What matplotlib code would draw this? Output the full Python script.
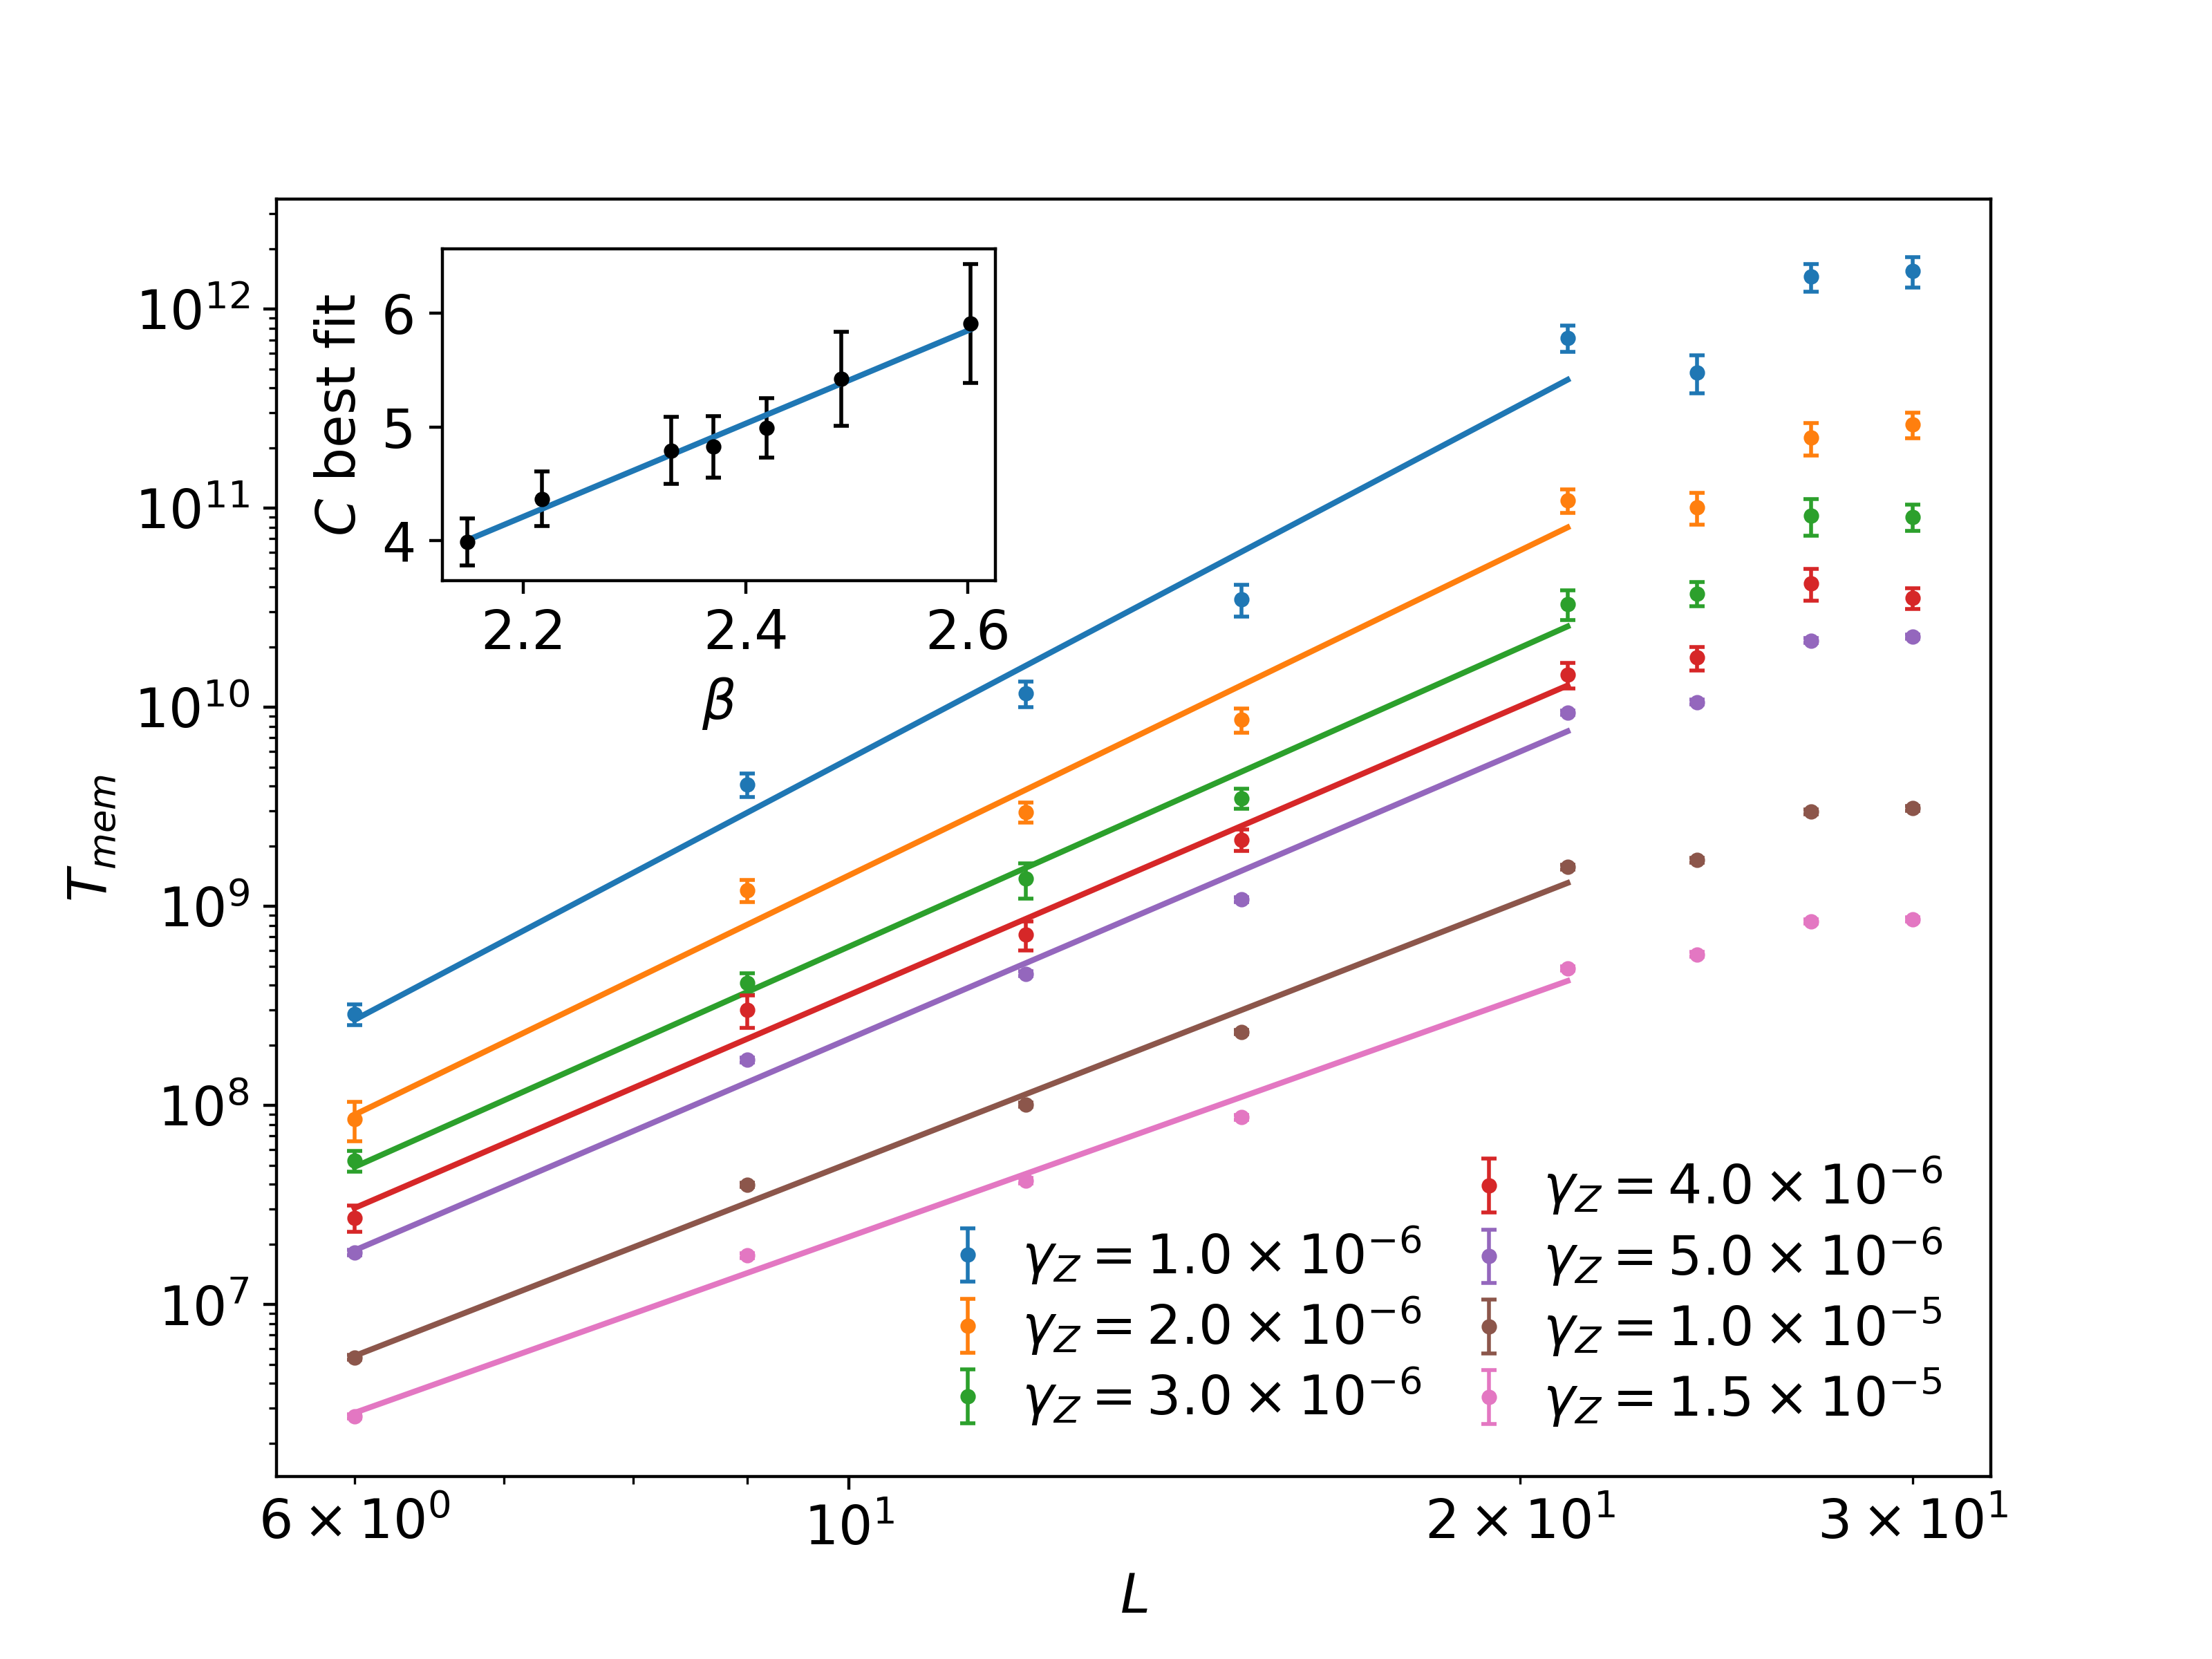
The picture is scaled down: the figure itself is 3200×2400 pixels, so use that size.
import numpy as np
import matplotlib
matplotlib.use("Agg")
import matplotlib.pyplot as plt

plt.rcParams['font.size'] = 14

# system sizes
L = np.array([6, 9, 12, 15, 21, 24, 27, 30])
L_fit_max = 21

# dephasing rates (mantissa, exponent)
gamma_mant = [1.0, 2.0, 3.0, 4.0, 5.0, 1.0, 1.5]
gamma_exp = [-6, -6, -6, -6, -6, -5, -5]

# memory times and errors
T_g1 = [2.86e8, 4.08e9, 1.17e10, 3.47e10, 7.15e11, 4.80e11, 1.45e12, 1.55e12]
E_g1 = [0.34e8, 0.56e9, 0.17e10, 0.63e10, 1.07e11, 1.03e11, 0.23e12, 0.27e12]
T_g2 = [8.5e7, 1.20e9, 2.97e9, 8.63e9, 1.09e11, 1.01e11, 2.25e11, 2.62e11]
E_g2 = [1.9e7, 0.155e9, 0.34e9, 1.2e9, 1.48e10, 1.85e10, 0.42e11, 0.38e11]
T_g3 = [5.26e7, 4.10e8, 1.37e9, 3.49e9, 3.29e10, 3.72e10, 9.18e10, 9.02e10]
E_g3 = [0.62e7, 0.5e8, 0.275e9, 0.4e9, 0.56e10, 0.52e10, 1.9e10, 1.35e10]
T_g4 = [2.72e7, 3.0e8, 7.18e8, 2.16e9, 1.45e10, 1.77e10, 4.18e10, 3.52e10]
E_g4 = [0.41e7, 0.55e8, 1.18e8, 0.27e9, 0.21e10, 0.24e10, 0.77e10, 0.42e10]
T_g5 = [1.82e7, 1.69e8, 4.58e8, 1.08e9, 9.38e9, 1.059e10, 2.16e10, 2.26e10]
E_g5 = [0.06e7, 0.05e8, 0.14e8, 0.03e9, 0.25e9, 0.03e10, 0.06e10, 0.06e10]
T_g10 = [5.41e6, 3.98e7, 1.006e8, 2.33e8, 1.57e9, 1.70e9, 2.98e9, 3.10e9]
E_g10 = [0.14e6, 0.1e7, 0.025e8, 0.06e8, 0.04e9, 0.045e9, 0.08e9, 0.08e9]
T_g15 = [2.74e6, 1.76e7, 4.18e7, 8.69e7, 4.88e8, 5.73e8, 8.35e8, 8.58e8]
E_g15 = [0.07e6, 0.05e7, 0.12e7, 0.22e7, 0.12e8, 0.15e8, 0.2e8, 0.2e8]

T_all = [T_g1, T_g2, T_g3, T_g4, T_g5, T_g10, T_g15]
E_all = [E_g1, E_g2, E_g3, E_g4, E_g5, E_g10, E_g15]

# inset: fitted exponent C vs beta
beta = [2.150, 2.217, 2.333, 2.371, 2.419, 2.486, 2.602]
C_fit = [3.988, 4.367, 4.793, 4.825, 4.991, 5.423, 5.910]
C_err = [0.208, 0.239, 0.294, 0.273, 0.262, 0.415, 0.525]
C_per_gamma = C_fit[::-1]

colors = ['C0', 'C1', 'C2', 'C3', 'C4', 'C5', 'C6']

fig, ax = plt.subplots(figsize=(8, 6))

# blank entry so the legend columns line up like the original
ax.plot([], [], ' ', label=' ')

mask = L <= L_fit_max
for T, E, m, e, c, C in zip(T_all, E_all, gamma_mant, gamma_exp, colors, C_per_gamma):
    T = np.array(T)
    label = r'$\gamma_Z = %.1f \times 10^{%d}$' % (m, e)
    ax.errorbar(L, T, yerr=E, fmt='.', color=c, capsize=2, elinewidth=1, label=label)
    # power-law fit with exponent C
    b = np.mean(np.log10(T[mask]) - C * np.log10(L[mask]))
    ax.plot(L[mask], 10 ** b * L[mask] ** C, color=c, linewidth=1.5)

ax.set_xscale('log')
ax.set_yscale('log')
ax.set_xlabel(r'$L$')
ax.set_ylabel(r'$T_{mem}$')
ax.legend(loc='lower right', ncol=2, frameon=False, labelspacing=0.15,
          handlelength=1.0, handletextpad=0.5, columnspacing=0.75)

# inset
ins = fig.add_axes([0.2, 0.65, 0.25, 0.2])
ins.errorbar(beta, C_fit, yerr=C_err, fmt='.', color='k', capsize=2, elinewidth=1)
p = np.polyfit(beta, C_fit, 1)
bb = np.array([min(beta), max(beta)])
ins.plot(bb, np.polyval(p, bb), color='C0', linewidth=1.5)
ins.set_xlabel(r'$\beta$')
ins.set_ylabel(r'$C$ best fit')

plt.savefig('out.png', dpi=400)
